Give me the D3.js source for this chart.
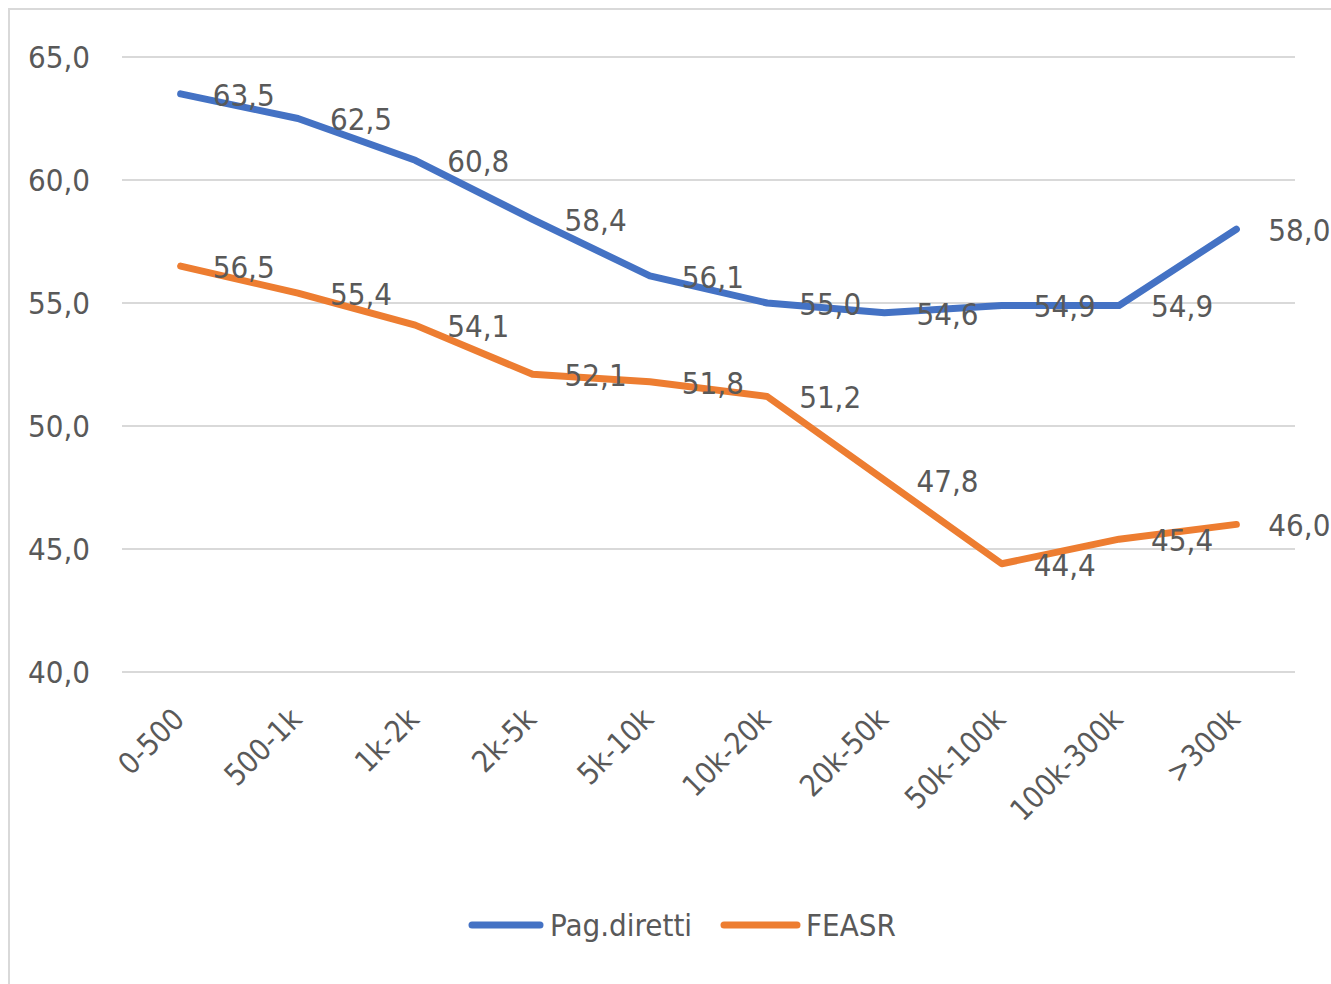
<!DOCTYPE html>
<html><head><meta charset="utf-8">
<script src="https://cdn.jsdelivr.net/npm/d3@7/dist/d3.min.js"></script>
<style>
html,body{margin:0;padding:0;background:#fff;}
text{font-family:"Liberation Sans Narrow","DejaVu Sans Condensed","Open Sans",sans-serif;fill:#595959;}
</style></head><body>
<svg id="c" width="1331" height="984"></svg>
<script>
const categories = ["0-500","500-1k","1k-2k","2k-5k","5k-10k","10k-20k","20k-50k","50k-100k","100k-300k",">300k"];
const pagDiretti = [63.5,62.5,60.8,58.4,56.1,55.0,54.6,54.9,54.9,58.0];
const feasr = [56.5,55.4,54.1,52.1,51.8,51.2,47.8,44.4,45.4,46.0];
const yTicks = [40,45,50,55,60,65];
const seriesNames = ["Pag.diretti","FEASR"];
const seriesColors = ["#4472C4","#ED7D31"];

const svg = d3.select("#c");
svg.append("rect").attr("x",9).attr("y",9).attr("width",1340).attr("height",1000)
  .attr("fill","#fff").attr("stroke","#d9d9d9").attr("stroke-width",2);

const x = d3.scalePoint().domain(categories).range([122,1295]).padding(0.5);
const y = d3.scaleLinear().domain([40,65]).range([672,57]);
const fmt = v => v.toFixed(1).replace(".",",");

// gridlines
svg.append("g").selectAll("line").data(yTicks).join("line")
  .attr("x1",122).attr("x2",1295).attr("y1",d=>y(d)).attr("y2",d=>y(d))
  .attr("stroke","#d9d9d9").attr("stroke-width",2);

// y axis labels
const yAxis = d3.axisLeft(y).tickValues(yTicks).tickFormat(fmt).tickSize(0).tickPadding(0);
const yg = svg.append("g").attr("transform","translate(90,0)").call(yAxis);
yg.select(".domain").remove();
yg.selectAll("text").attr("font-size",31).attr("fill","#595959").attr("dy","0.35em")
  .style("font-family",null);

// x axis labels
const xAxis = d3.axisBottom(x).tickSize(0).tickPadding(0);
const xg = svg.append("g").attr("transform","translate(0,672)").call(xAxis);
xg.select(".domain").remove();
xg.selectAll("text").attr("font-size",30).attr("fill","#595959")
  .attr("text-anchor","end").attr("dy",0).attr("y",0)
  .attr("transform","translate(5,49) rotate(-45)")
  .style("font-family",null);

const data = [pagDiretti, feasr];
const line = d3.line().x((d,i)=>x(categories[i])).y(d=>y(d));
data.forEach((vals,si)=>{
  svg.append("path").datum(vals).attr("d",line).attr("fill","none")
    .attr("stroke",seriesColors[si]).attr("stroke-width",7)
    .attr("stroke-linejoin","round").attr("stroke-linecap","round");
});
data.forEach((vals,si)=>{
  svg.append("g").selectAll("text").data(vals).join("text")
    .attr("x",(d,i)=>x(categories[i])+32).attr("y",d=>y(d)).attr("dy","0.38em")
    .attr("font-size",31).text(fmt);
});

// legend
const leg = [{x1:472,x2:540,tx:550},{x1:724,x2:797,tx:806}];
leg.forEach((l,i)=>{
  svg.append("line").attr("x1",l.x1).attr("x2",l.x2).attr("y1",925).attr("y2",925)
    .attr("stroke",seriesColors[i]).attr("stroke-width",7).attr("stroke-linecap","round");
  svg.append("text").attr("x",l.tx).attr("y",925).attr("dy","0.35em")
    .attr("font-size",31).text(seriesNames[i]);
});
</script>
</body></html>
